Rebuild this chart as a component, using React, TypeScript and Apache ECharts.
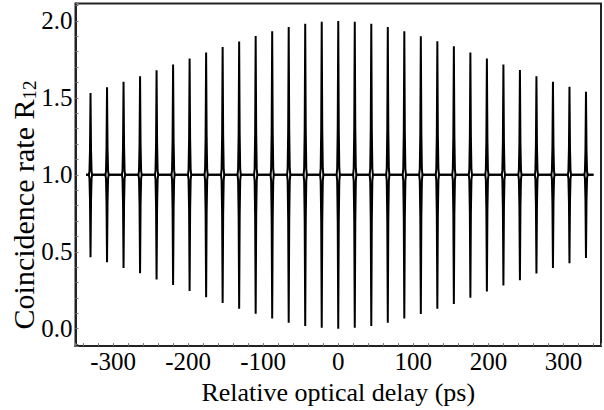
import React, { useEffect, useRef } from "react";
import * as echarts from "echarts";

// Spike centres (relative optical delay, ps)
const delays = [
  -330, -308, -286, -264, -242, -220, -198, -176, -154, -132, -110, -88, -66, -44, -22,
  0, 22, 44, 66, 88, 110, 132, 154, 176, 198, 220, 242, 264, 286, 308, 330,
];
// Upper spike tops (R12)
const peakValues = [
  1.532, 1.568, 1.604, 1.641, 1.679, 1.717, 1.756, 1.794, 1.83, 1.866, 1.902, 1.932, 1.96, 1.981, 1.994,
  2.0, 1.994, 1.981, 1.96, 1.932, 1.9, 1.868, 1.836, 1.794, 1.756, 1.717, 1.681, 1.641, 1.604, 1.572, 1.539,
];
// Lower spike bottoms (R12)
const dipValues = [
  0.464, 0.432, 0.394, 0.36, 0.32, 0.284, 0.245, 0.205, 0.167, 0.13, 0.097, 0.067, 0.039, 0.017, 0.007,
  0.0, 0.007, 0.017, 0.039, 0.067, 0.096, 0.13, 0.16, 0.202, 0.241, 0.281, 0.315, 0.358, 0.394, 0.426, 0.46,
];
const baseline = 1.0;
const lineStart = -336;
const lineEnd = 340;
// Shape of one spike: offset (ps) and fraction of its height
const spikeOffsets = [-2.2, -1.4, -0.7, 0, 0.7, 1.4, 2.2];
const spikeFractions = [0, 0.04, 0.3, 1, 0.3, 0.04, 0];

const xTitle = "Relative optical delay (ps)";
const yTitle = "Coincidence rate R{sub|12}";

const FONT = "Liberation Serif";
const FS_TICK = 25;
const FS_TITLE = 26;

function buildLine(extremes: number[]) {
  const pts: number[][] = [[lineStart, baseline]];
  delays.forEach((d, i) => {
    spikeOffsets.forEach((o, j) => {
      pts.push([d + o, baseline + (extremes[i] - baseline) * spikeFractions[j]]);
    });
  });
  pts.push([lineEnd, baseline]);
  return pts;
}

export default function App() {
  const ref = useRef<HTMLDivElement>(null);
  useEffect(() => {
    if (!ref.current) return;
    const chart = echarts.init(ref.current, null, { renderer: "svg" });
    chart.setOption({
      animation: false,
      backgroundColor: "#fff",
      grid: {
        left: 75.5,
        right: -8.5,
        top: 3.5,
        bottom: 57.7,
        show: true,
        borderColor: "#222",
        borderWidth: 2,
        backgroundColor: "transparent",
      },
      graphic: [
        {
          type: "text",
          x: 23,
          y: 205,
          rotation: Math.PI / 2,
          style: {
            text: yTitle,
            fontFamily: FONT,
            fontSize: 30,
            fill: "#000",
            align: "center",
            verticalAlign: "middle",
            rich: {
              sub: { fontFamily: FONT, fontSize: 19, fill: "#000", padding: [12, 0, 0, 0] },
            },
          },
        },
      ],
      xAxis: {
        type: "value",
        min: -350,
        max: 350,
        splitNumber: 35,
        name: xTitle,
        nameLocation: "middle",
        nameGap: 27,
        nameTextStyle: { fontFamily: FONT, fontSize: FS_TITLE, color: "#000" },
        axisLine: { show: true, onZero: false, lineStyle: { color: "#222", width: 2 } },
        axisTick: { show: true, inside: true, length: 3, lineStyle: { color: "#777", width: 1 } },
        splitLine: { show: false },
        axisLabel: {
          fontFamily: FONT,
          fontSize: FS_TICK,
          color: "#000",
          margin: 3,
          formatter: (v: number) => (Math.abs(v % 100) < 1e-6 && Math.abs(v) <= 300 ? String(v) : ""),
        },
      },
      yAxis: {
        type: "value",
        min: -0.113,
        max: 2.113,
        splitNumber: 22,
        axisLine: { show: true, onZero: false, lineStyle: { color: "#222", width: 2 } },
        axisTick: { show: true, inside: true, length: 3, lineStyle: { color: "#777", width: 1 } },
        splitLine: { show: false },
        axisLabel: {
          fontFamily: FONT,
          fontSize: FS_TICK,
          color: "#000",
          margin: 3,
          formatter: (v: number) =>
            Math.abs(v * 2 - Math.round(v * 2)) < 1e-6 && v > -0.01 && v < 2.01 ? v.toFixed(1) : "",
        },
      },
      series: [
        {
          type: "line",
          data: buildLine(peakValues),
          showSymbol: false,
          lineStyle: { color: "#000", width: 2 },
          silent: true,
        },
        {
          type: "line",
          data: buildLine(dipValues),
          showSymbol: false,
          lineStyle: { color: "#000", width: 2 },
          silent: true,
        },
      ],
    });
    return () => chart.dispose();
  }, []);
  return (
    <div
      ref={ref}
      style={{ position: "fixed", left: 0, top: 0, width: 604, height: 410, background: "#fff" }}
    />
  );
}
